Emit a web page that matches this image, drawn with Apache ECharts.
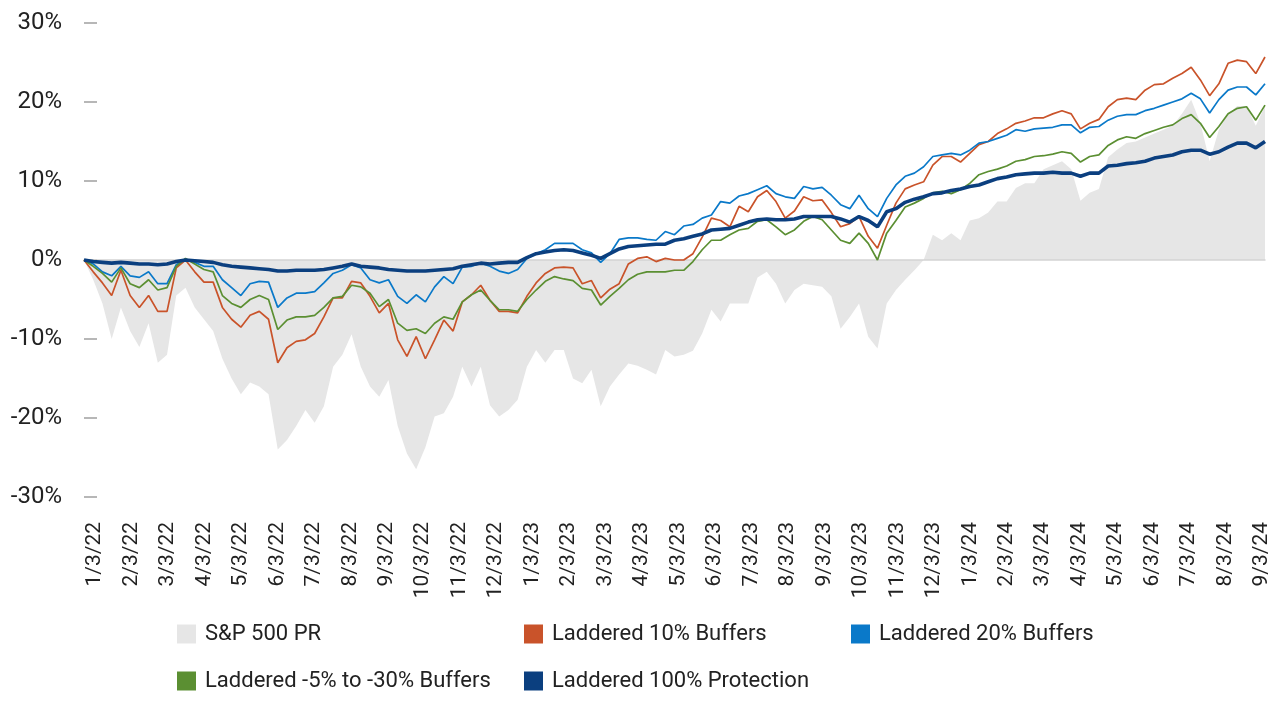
<!DOCTYPE html>
<html>
<head>
<meta charset="utf-8">
<script src="https://cdn.jsdelivr.net/npm/echarts@6/dist/echarts.min.js"></script>
<style>
html,body{margin:0;padding:0;background:#fff;}
#chart{width:1280px;height:706px;}
</style>
</head>
<body>
<div id="chart"></div>
<script>
// Month tick labels (x axis)
const monthLabels = ["1/3/22","2/3/22","3/3/22","4/3/22","5/3/22","6/3/22","7/3/22","8/3/22","9/3/22","10/3/22","11/3/22","12/3/22",
  "1/3/23","2/3/23","3/3/23","4/3/23","5/3/23","6/3/23","7/3/23","8/3/23","9/3/23","10/3/23","11/3/23","12/3/23",
  "1/3/24","2/3/24","3/3/24","4/3/24","5/3/24","6/3/24","7/3/24","8/3/24","9/3/24"];
const weekDays = [3, 10, 17, 24];
const yTicks = [-30, -20, -10, 0, 10, 20, 30];

// Cumulative returns (%), sampled weekly
const sp500 = [0,-2.5,-5.5,-10,-6,-9,-11,-8,-13,-12,-4.5,-3.5,-6,-7.5,-9,-12.5,-15,-17,-15.5,-16,-17,-24,-22.8,-21,-19,-20.6,-18.5,-13.5,-12,-9.4,
  -13.5,-16,-17.3,-15.2,-21,-24.5,-26.5,-23.7,-19.8,-19.4,-17.3,-13.5,-16,-13.5,-18.4,-19.8,-19,-17.7,-13.5,-11.4,-13,-11.4,-11.4,-15,-15.6,-13.9,-18.5,-16,-14.5,-13.1,
  -13.4,-13.9,-14.5,-11.4,-12.2,-12,-11.5,-9.3,-6.3,-7.8,-5.5,-5.5,-5.5,-2.2,-1.5,-3,-5.5,-3.8,-3,-3.2,-3.4,-4.6,-8.7,-7.2,-5.5,-9.7,-11.2,-5.5,-3.8,-2.5,
  -1.3,0,3.2,2.5,3.4,2.5,5,5.3,6,7.4,7.4,9.1,9.7,9.7,11.5,12,12.5,11.5,7.5,8.5,9,13,14,14.8,15,15.5,16,16.5,17,18.5,20.3,17.3,12.5,16.5,18.5,19.5,19.5,17,19.5];
const buf10 = [0,-1.5,-2.9,-4.5,-1.3,-4.5,-6,-4.5,-6.5,-6.5,-1,0,-1.5,-2.8,-2.8,-6,-7.5,-8.5,-7,-6.5,-7.5,-13,-11.1,-10.3,-10.1,-9.3,-7.2,-4.8,-4.8,-2.7,
  -2.9,-4.6,-6.7,-5.5,-10.1,-12.2,-9.7,-12.5,-10.1,-7.6,-9,-5.3,-4.4,-3.2,-5.1,-6.5,-6.5,-6.7,-4.6,-2.9,-1.7,-1,-0.9,-1,-3,-2.6,-4.8,-3.7,-3,-0.5,
  0.2,0.4,-0.2,0.2,0,0,0.8,2.9,5.3,5,4.2,6.8,6.1,8,8.8,7.4,5.3,6.2,8,7.5,7.6,6,4.2,4.6,5.5,3,1.5,4.4,7.2,9,
  9.5,9.9,12,13.1,13.1,12.4,13.5,14.6,15,16,16.6,17.3,17.6,18,18,18.5,18.9,18.5,16.6,17.3,17.8,19.4,20.3,20.5,20.3,21.5,22.2,22.3,23,23.6,24.4,22.8,20.8,22.3,24.9,25.3,25.1,23.6,25.7];
const buf20 = [0,-0.5,-1.5,-2,-0.8,-2,-2.2,-1.5,-3,-3,-0.6,0.1,-0.3,-0.8,-0.8,-2.5,-3.5,-4.5,-3,-2.7,-2.8,-6,-4.8,-4.2,-4.2,-4,-2.9,-1.7,-1.3,-0.6,
  -1,-2.5,-2.9,-2.5,-4.6,-5.5,-4.4,-5.3,-3.4,-2.1,-3,-0.9,-0.8,-0.4,-0.8,-1.4,-1.7,-1.2,0.2,0.8,1.3,2.1,2.1,2.1,1.3,0.9,-0.3,0.8,2.6,2.8,
  2.8,2.6,2.5,3.6,3.2,4.3,4.5,5.3,5.7,7.4,7.2,8.1,8.4,8.9,9.4,8.4,8,7.8,9.3,9,9.2,8.2,7,6.5,8.2,6.5,5.5,7.8,9.5,10.6,
  11,11.8,13.1,13.3,13.5,13.3,13.9,14.8,15,15.4,15.8,16.5,16.3,16.6,16.7,16.8,17.1,17.1,16.1,16.8,16.9,17.7,18.2,18.4,18.4,18.9,19.2,19.6,20,20.4,21.1,20.4,18.6,20.3,21.5,21.9,21.9,20.9,22.3];
const bufRange = [0,-0.8,-1.7,-2.8,-1,-3,-3.5,-2.5,-3.8,-3.5,-0.8,0.2,-0.5,-1.2,-1.5,-4.5,-5.5,-6,-5,-4.5,-5,-8.8,-7.6,-7.2,-7.2,-7,-6,-4.8,-4.6,-3.2,
  -3.4,-4.2,-5.9,-5,-8,-8.9,-8.7,-9.3,-8,-7.2,-7.5,-5.3,-4.4,-3.8,-5.1,-6.3,-6.3,-6.5,-5,-3.8,-2.7,-2.1,-2.4,-2.6,-3.6,-3.8,-5.7,-4.6,-3.6,-2.5,
  -1.8,-1.5,-1.5,-1.5,-1.3,-1.3,-0.2,1.3,2.5,2.5,3.2,3.8,4,4.9,5.1,4.2,3.2,3.8,4.9,5.5,5.1,3.8,2.5,2.1,3.4,2.1,0,3.4,5,6.7,
  7.2,7.8,8.5,8.7,8.4,8.9,9.7,10.8,11.2,11.5,11.9,12.5,12.7,13.1,13.2,13.4,13.7,13.5,12.4,13.1,13.3,14.5,15.2,15.6,15.4,16,16.4,16.8,17.1,17.9,18.4,17.3,15.5,16.9,18.5,19.2,19.4,17.7,19.6];
const prot100 = [0,-0.2,-0.3,-0.4,-0.3,-0.4,-0.5,-0.5,-0.6,-0.5,-0.2,0,-0.1,-0.2,-0.3,-0.6,-0.8,-0.9,-1,-1.1,-1.2,-1.4,-1.4,-1.3,-1.3,-1.3,-1.2,-1,-0.8,-0.5,
  -0.8,-0.9,-1,-1.2,-1.3,-1.4,-1.4,-1.4,-1.3,-1.2,-1.1,-0.8,-0.6,-0.4,-0.5,-0.4,-0.3,-0.3,0.3,0.8,1,1.2,1.3,1.2,0.9,0.6,0.2,0.8,1.4,1.7,
  1.8,1.9,2,2,2.5,2.7,3,3.3,3.8,3.9,4,4.4,4.8,5.1,5.2,5.1,5.1,5.2,5.5,5.5,5.5,5.5,5.2,4.8,5.5,5,4.2,6.1,6.5,7.3,
  7.7,8,8.4,8.5,8.8,9,9.3,9.5,9.9,10.3,10.5,10.8,10.9,11,11,11.1,11,11,10.6,11,11,11.9,12,12.2,12.3,12.5,12.9,13.1,13.3,13.7,13.9,13.9,13.4,13.7,14.3,14.8,14.8,14.2,15];

// weekly categories built from the month labels
const categories = [];
monthLabels.forEach((lab, mi) => {
  const parts = lab.split('/');
  const days = mi === monthLabels.length - 1 ? [3] : weekDays;
  days.forEach(d => categories.push(parts[0] + '/' + d + '/' + parts[2]));
});

const FONT = 'Roboto';
const names = ['S&P 500 PR','Laddered 10% Buffers','Laddered 20% Buffers','Laddered -5% to -30% Buffers','Laddered 100% Protection'];
const colors = ['#e6e6e6','#c9532a','#0a79c9','#5b8f32','#0b3f7f'];

function legendItem(name, left, top){
  return {
    data:[name], left:left, top:top, icon:'rect', itemWidth:19, itemHeight:19, padding:0,
    selectedMode:false, itemStyle:{borderWidth:0},
    textStyle:{fontFamily:FONT, fontSize:22, color:'#222', padding:[0,0,0,4]}
  };
}

const chart = echarts.init(document.getElementById('chart'), null, {renderer:'canvas'});
chart.setOption({
  animation:false,
  backgroundColor:'#fff',
  grid:[
    {left:84, right:15, top:23, bottom:209},
    {left:95, right:18, top:23, bottom:209}
  ],
  legend:[
    legendItem(names[0], 177, 623),
    legendItem(names[1], 524, 623),
    legendItem(names[2], 851, 623),
    legendItem(names[3], 177, 670),
    legendItem(names[4], 524, 670)
  ],
  xAxis:[
    {gridIndex:0, type:'category', data:categories, boundaryGap:false, z:2,
     axisLine:{show:true, onZero:true, lineStyle:{color:'#d4d4d4', width:1.5}},
     axisTick:{show:false}, axisLabel:{show:false}, splitLine:{show:false}},
    {gridIndex:1, type:'category', data:monthLabels, boundaryGap:false, position:'bottom',
     axisLine:{show:false}, axisTick:{show:false}, splitLine:{show:false},
     axisLabel:{interval:0, rotate:90, fontFamily:FONT, fontSize:21, color:'#222', margin:25}}
  ],
  yAxis:[
    {gridIndex:0, type:'value', min:-30, max:30, interval:10,
     axisLine:{show:false}, splitLine:{show:false},
     axisTick:{show:true, inside:true, length:13, lineStyle:{color:'#a0a0a0', width:1.5}},
     axisLabel:{fontFamily:FONT, fontSize:24, color:'#222', margin:22, formatter:v => v + '%'}},
    {gridIndex:1, type:'value', min:-30, max:30, show:false}
  ],
  series:[
    {name:names[0], type:'line', data:sp500, symbol:'none', z:1, color:colors[0],
     lineStyle:{width:0}, areaStyle:{color:colors[0], opacity:1}},
    {name:names[1], type:'line', data:buf10, symbol:'none', z:3, color:colors[1], lineStyle:{width:1.7}},
    {name:names[2], type:'line', data:buf20, symbol:'none', z:3, color:colors[2], lineStyle:{width:1.7}},
    {name:names[3], type:'line', data:bufRange, symbol:'none', z:3, color:colors[3], lineStyle:{width:1.7}},
    {name:names[4], type:'line', data:prot100, symbol:'none', z:4, color:colors[4], lineStyle:{width:3.6}}
  ]
});
</script>
</body>
</html>
